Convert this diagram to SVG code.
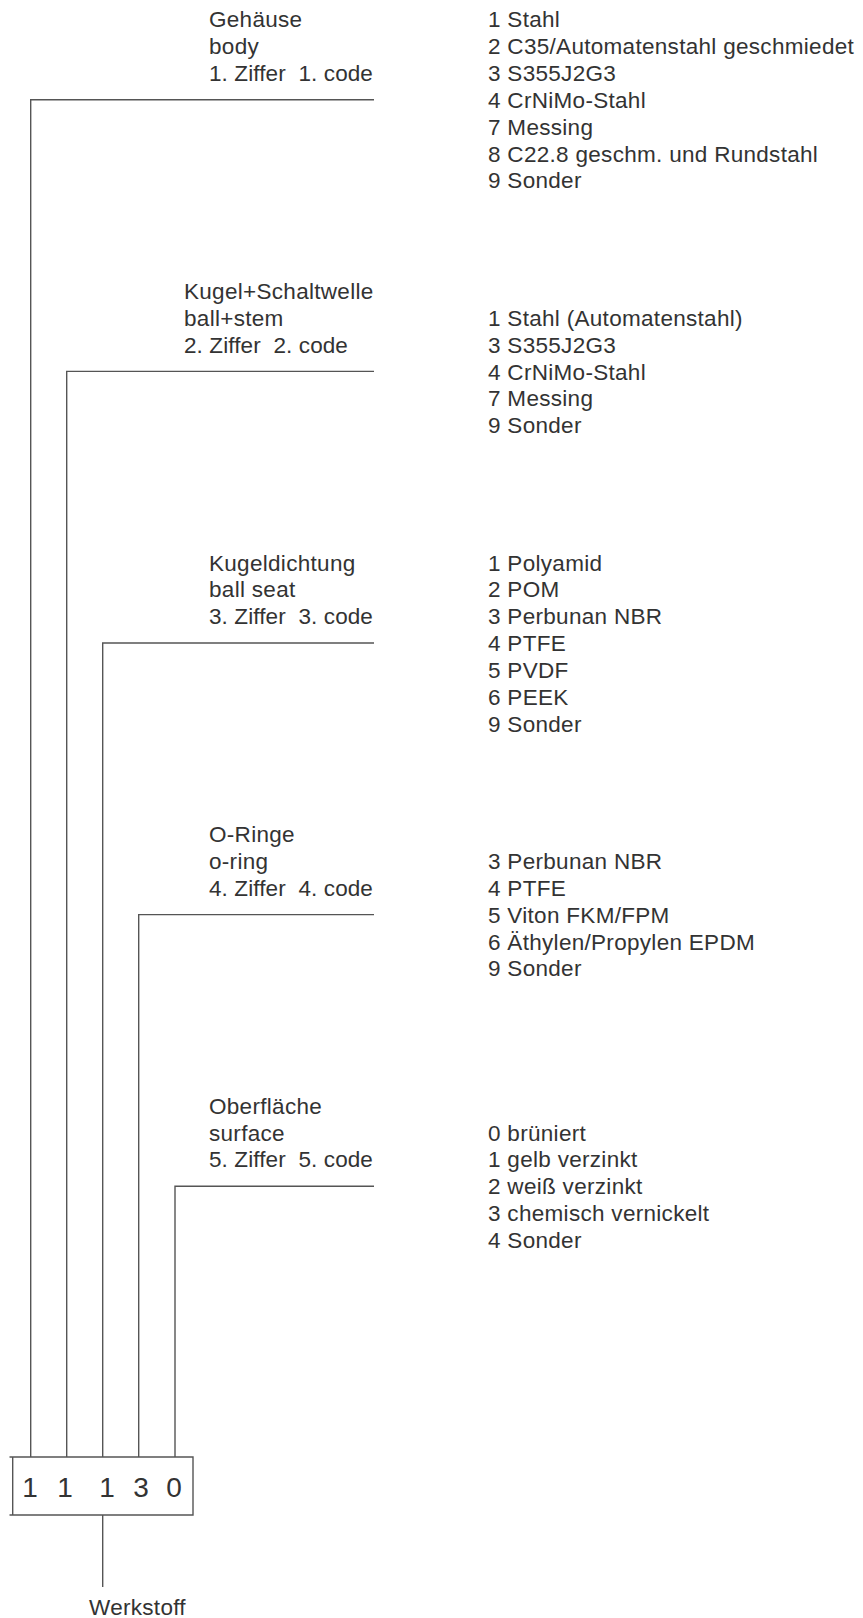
<svg xmlns="http://www.w3.org/2000/svg" width="863" height="1618" viewBox="0 0 863 1618">
<style>
text{font-family:"Liberation Sans",Arial,Helvetica,sans-serif;font-size:22.5px;fill:#333;letter-spacing:0.3px;white-space:pre}
.code{letter-spacing:0.1px}
.digit{font-size:28px;letter-spacing:0;text-anchor:middle}
.ln{stroke:#555;stroke-width:1.4;fill:none}
</style>
<rect width="863" height="1618" fill="#fff"/>
<g id="connectors">
<path class="ln" d="M374 99.8H30.7V1457"/>
<path class="ln" d="M374 371.4H66.7V1457"/>
<path class="ln" d="M374 643H102.7V1457"/>
<path class="ln" d="M374 914.6H138.7V1457"/>
<path class="ln" d="M374 1186.2H175V1457"/>
<path class="ln" d="M102.7 1515V1587"/>
</g>
<g id="section1">
<text x="209" y="27.3">Gehäuse</text>
<text x="209" y="54.2">body</text>
<text class="code" x="209" y="81" xml:space="preserve">1. Ziffer  1. code</text>
<text x="488" y="27.3">1 Stahl</text>
<text x="488" y="54.2">2 C35/Automatenstahl geschmiedet</text>
<text x="488" y="81">3 S355J2G3</text>
<text x="488" y="107.9">4 CrNiMo-Stahl</text>
<text x="488" y="134.7">7 Messing</text>
<text x="488" y="161.6">8 C22.8 geschm. und Rundstahl</text>
<text x="488" y="188.4">9 Sonder</text>
</g>
<g id="section2">
<text x="184" y="298.9">Kugel+Schaltwelle</text>
<text x="184" y="325.8">ball+stem</text>
<text class="code" x="184" y="352.6" xml:space="preserve">2. Ziffer  2. code</text>
<text x="488" y="325.8">1 Stahl (Automatenstahl)</text>
<text x="488" y="352.6">3 S355J2G3</text>
<text x="488" y="379.5">4 CrNiMo-Stahl</text>
<text x="488" y="406.3">7 Messing</text>
<text x="488" y="433.2">9 Sonder</text>
</g>
<g id="section3">
<text x="209" y="570.5">Kugeldichtung</text>
<text x="209" y="597.4">ball seat</text>
<text class="code" x="209" y="624.2" xml:space="preserve">3. Ziffer  3. code</text>
<text x="488" y="570.5">1 Polyamid</text>
<text x="488" y="597.4">2 POM</text>
<text x="488" y="624.2">3 Perbunan NBR</text>
<text x="488" y="651.1">4 PTFE</text>
<text x="488" y="677.9">5 PVDF</text>
<text x="488" y="704.8">6 PEEK</text>
<text x="488" y="731.6">9 Sonder</text>
</g>
<g id="section4">
<text x="209" y="842.1">O-Ringe</text>
<text x="209" y="869">o-ring</text>
<text class="code" x="209" y="895.8" xml:space="preserve">4. Ziffer  4. code</text>
<text x="488" y="869">3 Perbunan NBR</text>
<text x="488" y="895.8">4 PTFE</text>
<text x="488" y="922.7">5 Viton FKM/FPM</text>
<text x="488" y="949.5">6 Äthylen/Propylen EPDM</text>
<text x="488" y="976.4">9 Sonder</text>
</g>
<g id="section5">
<text x="209" y="1113.7">Oberfläche</text>
<text x="209" y="1140.6">surface</text>
<text class="code" x="209" y="1167.4" xml:space="preserve">5. Ziffer  5. code</text>
<text x="488" y="1140.6">0 brüniert</text>
<text x="488" y="1167.4">1 gelb verzinkt</text>
<text x="488" y="1194.3">2 weiß verzinkt</text>
<text x="488" y="1221.1">3 chemisch vernickelt</text>
<text x="488" y="1248">4 Sonder</text>
</g>
<g id="codebox">
<path class="ln" d="M9.5 1457H193V1515H9.5M12.7 1457V1515"/>
<text class="digit" x="30" y="1497">1</text>
<text class="digit" x="65" y="1497">1</text>
<text class="digit" x="107" y="1497">1</text>
<text class="digit" x="141" y="1497">3</text>
<text class="digit" x="174" y="1497">0</text>
</g>
<g id="werkstoff">
<text x="89" y="1615">Werkstoff</text>
</g>
</svg>
